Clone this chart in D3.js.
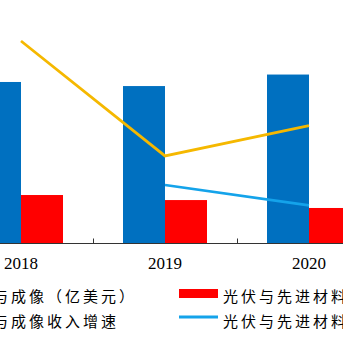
<!DOCTYPE html>
<html>
<head>
<meta charset="utf-8">
<script src="https://cdn.jsdelivr.net/npm/d3@7"></script>
<style>
  body { margin: 0; background: #fff; }
  svg { display: block; }
</style>
</head>
<body>
<svg id="chart"></svg>
<script>
const years = ["2018", "2019", "2020"];
const imagingRevenue = [13.46, 13.12, 14.08];
const pvRevenue = [4.04, 3.62, 2.96];
const imagingGrowth = [27.5, -10.8, -0.7];
const pvGrowth = [null, -20.5, -27.3];
const legendNames = ["与成像（亿美元）", "光伏与先进材料（亿美元）", "与成像收入增速", "光伏与先进材料收入增速"];

const containerWidth = 343;
const containerHeight = 343;
const baseY = 243.5;

const svg = d3.select("#chart")
  .attr("width", containerWidth)
  .attr("height", containerHeight);

// the visible part is a crop, so the bands run past both edges
const xScale = d3.scaleBand()
  .domain(years)
  .range([-51, 381])
  .padding(0);

const subScale = d3.scaleBand()
  .domain(["imaging", "pv"])
  .range([30, 114]);

const yScale = d3.scaleLinear()
  .domain([0, 20])
  .range([baseY, 3.5]);

const yGrowth = d3.scaleLinear()
  .domain([-40, 40])
  .range([baseY, 3.5]);

const barData = years.map((y, i) => ({year: y, imaging: imagingRevenue[i], pv: pvRevenue[i]}));
const colors = {imaging: "#0070C0", pv: "#FF0000"};

const groups = svg.append("g")
  .selectAll("g")
  .data(barData)
  .join("g")
  .attr("transform", d => `translate(${xScale(d.year)},0)`);

groups.selectAll("rect")
  .data(d => ["imaging", "pv"].map(k => ({key: k, value: d[k]})))
  .join("rect")
  .attr("x", d => subScale(d.key))
  .attr("width", subScale.bandwidth())
  .attr("y", d => yScale(d.value))
  .attr("height", d => baseY - yScale(d.value))
  .attr("fill", d => colors[d.key]);

// axis line + ticks between categories
svg.append("line")
  .attr("x1", 0).attr("x2", containerWidth)
  .attr("y1", baseY).attr("y2", baseY)
  .attr("stroke", "#333").attr("stroke-width", 1);

svg.append("g")
  .selectAll("line")
  .data(years.slice(1))
  .join("line")
  .attr("x1", d => Math.round(xScale(d)) + 0.5)
  .attr("x2", d => Math.round(xScale(d)) + 0.5)
  .attr("y1", baseY)
  .attr("y2", baseY - 5)
  .attr("stroke", "#333");

svg.append("g")
  .attr("transform", `translate(0,${baseY})`)
  .call(d3.axisBottom(xScale).tickSize(0).tickPadding(13))
  .call(g => g.select(".domain").remove())
  .selectAll("text")
  .style("font-family", "'Liberation Serif', 'DejaVu Serif', serif")
  .style("font-size", "17px")
  .attr("fill", "#000");

// growth lines
const lineGen = d3.line()
  .defined(d => d.v != null)
  .x(d => xScale(d.year) + xScale.bandwidth() / 2)
  .y(d => yGrowth(d.v));

svg.append("path")
  .datum(years.map((y, i) => ({year: y, v: imagingGrowth[i]})))
  .attr("d", lineGen)
  .attr("fill", "none")
  .attr("stroke", "#F5B800")
  .attr("stroke-width", 2.75);

svg.append("path")
  .datum(years.map((y, i) => ({year: y, v: pvGrowth[i]})))
  .attr("d", lineGen)
  .attr("fill", "none")
  .attr("stroke", "#14A3EA")
  .attr("stroke-width", 2.75);

// legend
const legend = svg.append("g")
  .style("font-family", "'Noto Sans CJK SC', sans-serif")
  .style("font-size", "15px")
  .attr("letter-spacing", 3)
  .attr("fill", "#000");

legend.append("text").attr("x", -7).attr("y", 295).attr("dominant-baseline", "central").text(legendNames[0]);
legend.append("rect").attr("x", 179).attr("y", 289).attr("width", 39).attr("height", 9).attr("fill", colors.pv);
legend.append("text").attr("x", 223).attr("y", 295).attr("dominant-baseline", "central").text(legendNames[1]);

legend.append("text").attr("x", -7).attr("y", 320).attr("dominant-baseline", "central").text(legendNames[2]);
legend.append("line").attr("x1", 179).attr("x2", 218).attr("y1", 317).attr("y2", 317)
  .attr("stroke", "#14A3EA").attr("stroke-width", 3);
legend.append("text").attr("x", 223).attr("y", 320).attr("dominant-baseline", "central").text(legendNames[3]);
</script>
</body>
</html>
